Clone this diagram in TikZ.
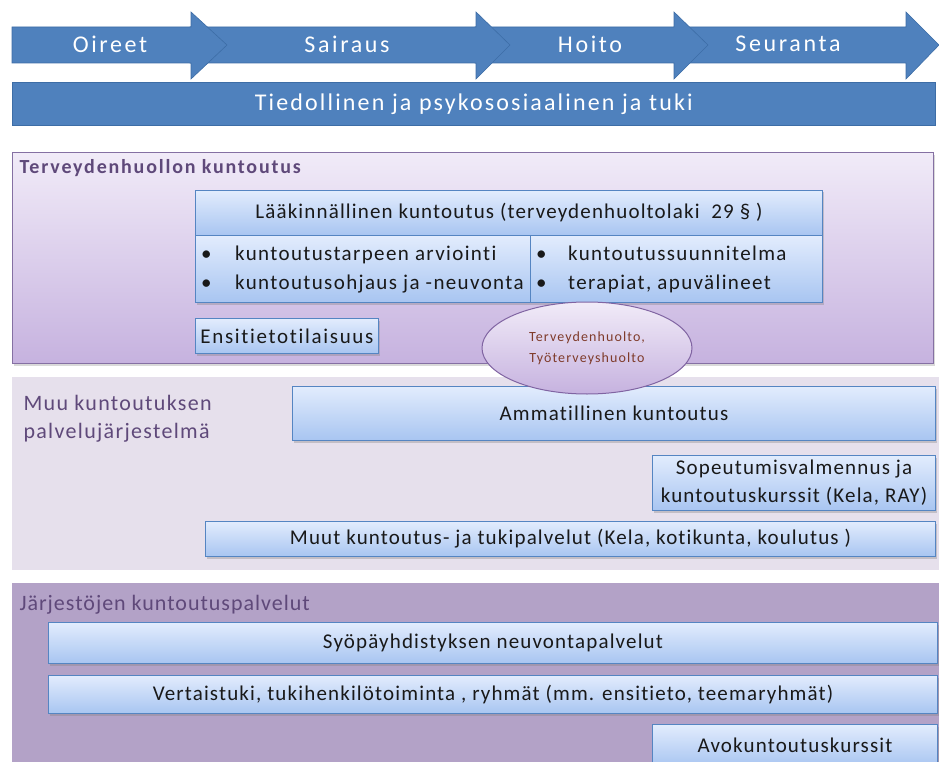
\documentclass[tikz,border=0pt]{standalone}
\usepackage{fontspec}
\setmainfont{Carlito}[Ligatures=NoCommon]
\newfontfamily\arrowfont[LetterSpace=11,Ligatures=NoCommon]{Carlito}
\newfontfamily\barfont[LetterSpace=9,Ligatures=NoCommon]{Carlito}
\newfontfamily\boxfont[LetterSpace=5.5,Ligatures=NoCommon]{Carlito}
\newfontfamily\boxwidefont[LetterSpace=8,Ligatures=NoCommon]{Carlito}
\newfontfamily\bulletfont[LetterSpace=6.5,Ligatures=NoCommon]{Carlito}
\newfontfamily\titleAfont[LetterSpace=9,Ligatures=NoCommon]{Carlito}
\newfontfamily\titleBfont[LetterSpace=6,Ligatures=NoCommon]{Carlito}
\newfontfamily\titleCfont[LetterSpace=4.5,Ligatures=NoCommon]{Carlito}
\newfontfamily\ellfont[LetterSpace=8,Ligatures=NoCommon]{Carlito}
\usetikzlibrary{shapes.geometric,shadows}
\definecolor{arrowblue}{HTML}{4F81BD}
\definecolor{arrowedge}{HTML}{3D6DA6}
\definecolor{boxtop}{HTML}{E2ECFD}
\definecolor{boxbot}{HTML}{A8C5F1}
\definecolor{boxedge}{HTML}{5585C2}
\definecolor{secAtop}{HTML}{F1EBF8}
\definecolor{secAbot}{HTML}{C6B2DF}
\definecolor{secAedge}{HTML}{8570A3}
\definecolor{secB}{HTML}{E6E0EC}
\definecolor{secC}{HTML}{B3A2C7}
\definecolor{titlepurple}{HTML}{5F497A}
\definecolor{elltext}{HTML}{7F3B2A}
\definecolor{elledge}{HTML}{8064A2}
\begin{document}
\begin{tikzpicture}[x=1pt,y=-1pt,
  arrowshape/.style={fill=arrowblue,draw=arrowedge,line width=0.6pt,line join=miter},
  arrowtext/.style={text=white,font=\arrowfont\fontsize{24}{28}\selectfont},
  bluebox/.style={rectangle,anchor=north west,inner sep=0pt,top color=boxtop,bottom color=boxbot,
    draw=boxedge,line width=1pt,drop shadow={opacity=0.35,shadow xshift=1.5pt,shadow yshift=-2pt},
    font=\boxfont\fontsize{21}{25}\selectfont,text=black!90},
  sectitle/.style={anchor=west,text=titlepurple,align=left},
  bullettext/.style={anchor=north west,inner sep=0pt,align=left,font=\bulletfont\fontsize{21}{29}\selectfont,text=black!90}
]
\useasboundingbox (0,0) rectangle (939,762);
% --- process arrows (drawn right to left so heads overlap)
\draw[arrowshape] (675,27) -- (906,27) -- (906,12) -- (939,45) -- (906,79) -- (906,63) -- (675,63) -- cycle;
\draw[arrowshape] (475,27) -- (674,27) -- (674,12) -- (708,45) -- (674,79) -- (674,63) -- (475,63) -- cycle;
\draw[arrowshape] (190,27) -- (476,27) -- (476,12) -- (510,45) -- (476,79) -- (476,63) -- (190,63) -- cycle;
\draw[arrowshape] (12,27) -- (191,27) -- (191,12) -- (227,45) -- (191,79) -- (191,63) -- (12,63) -- cycle;
\node[arrowtext] (oireet) at (110,44) {Oireet};
\node[arrowtext] (sairaus) at (347,44) {Sairaus};
\node[arrowtext] (hoito) at (590,44) {Hoito};
\node[arrowtext] (seuranta) at (788,44) {Seuranta};
\node[rectangle,anchor=north west,inner sep=0pt,minimum width=923,minimum height=43,
  fill=arrowblue,draw=arrowedge,line width=0.6pt] (tuki) at (12,82) {};
\node[text=white,font=\barfont\fontsize{24}{28}\selectfont] (tukitext) at (tuki.center) {Tiedollinen ja psykososiaalinen ja tuki};
% --- section 1
\node[rectangle,anchor=north west,inner sep=0pt,minimum width=921,minimum height=211,
  top color=secAtop,bottom color=secAbot,draw=secAedge,line width=1.2pt,
  drop shadow={opacity=0.3,shadow xshift=1.5pt,shadow yshift=-2pt}] (s1) at (12,152) {};
\node[sectitle,font=\titleAfont\fontsize{20}{24}\selectfont\bfseries] (s1title) at (16,168) {Terveydenhuollon kuntoutus};
\node[bluebox,minimum width=627,minimum height=45] (laak) at (195,190) {Lääkinnällinen kuntoutus (terveydenhuoltolaki \ 29 § )};
\node[bluebox,minimum width=335,minimum height=67] (bl) at (195,235) {};
\node[bluebox,minimum width=292,minimum height=67] (br) at (530,235) {};
\node[bullettext] (bltext) at (201,246) {\makebox[34pt][l]{\textbullet}kuntoutustarpeen arviointi\\\makebox[34pt][l]{\textbullet}kuntoutusohjaus ja -neuvonta};
\node[bullettext] (brtext) at (536,246) {\makebox[32pt][l]{\textbullet}kuntoutussuunnitelma\\\makebox[32pt][l]{\textbullet}terapiat, apuvälineet};
\node[bluebox,minimum width=183,minimum height=35,font=\boxwidefont\fontsize{21}{25}\selectfont] (ensi) at (195,318) {Ensitietotilaisuus};
% --- section 2
\node[rectangle,anchor=north west,inner sep=0pt,minimum width=927,minimum height=193,fill=secB] (s2) at (12,377) {};
\node[sectitle,font=\titleBfont\fontsize{22}{28}\selectfont] (s2title) at (20,419) {Muu kuntoutuksen\\palvelujärjestelmä};
\node[bluebox,minimum width=643,minimum height=54] (amm) at (292,386) {Ammatillinen kuntoutus};
\node[bluebox,minimum width=283,minimum height=55,align=center,font=\boxfont\fontsize{21}{28}\selectfont] (sope) at (652,455) {Sopeutumisvalmennus ja\\kuntoutuskurssit (Kela, RAY)};
\node[bluebox,minimum width=730,minimum height=35] (muut) at (205,521) {Muut kuntoutus- ja tukipalvelut (Kela, kotikunta, koulutus )};
% --- section 3
\node[rectangle,anchor=north west,inner sep=0pt,minimum width=927,minimum height=179,fill=secC] (s3) at (12,583) {};
\node[sectitle,font=\titleCfont\fontsize{22}{26}\selectfont] (s3title) at (16,605) {Järjestöjen kuntoutuspalvelut};
\node[bluebox,minimum width=889,minimum height=41] (syopa) at (48,622) {Syöpäyhdistyksen neuvontapalvelut};
\node[bluebox,minimum width=889,minimum height=38] (vert) at (48,675) {Vertaistuki, tukihenkilötoiminta , ryhmät (mm. ensitieto, teemaryhmät)};
\node[bluebox,minimum width=285,minimum height=42] (avo) at (652,724) {Avokuntoutuskurssit};
% --- ellipse
\node[ellipse,minimum width=210,minimum height=92,inner sep=0pt,top color=secAtop,bottom color=secAbot,
  draw=elledge,line width=1pt,align=center,text=elltext,font=\ellfont\fontsize{14}{21}\selectfont] (huolto) at (587,348) {Terveydenhuolto,\\Työterveyshuolto};
\end{tikzpicture}
\end{document}
